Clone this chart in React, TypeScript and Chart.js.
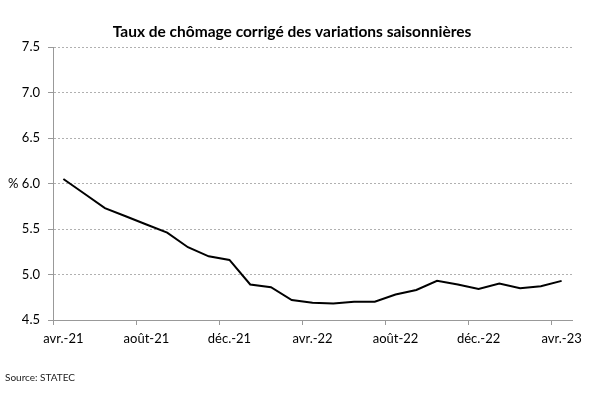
import React, { useEffect, useRef } from "react";
import { Chart, registerables } from "chart.js";

Chart.register(...registerables);

const months: string[] = [
  "avr.-21", "mai-21", "juin-21", "juil.-21", "août-21", "sept.-21", "oct.-21", "nov.-21", "déc.-21",
  "janv.-22", "févr.-22", "mars-22", "avr.-22", "mai-22", "juin-22", "juil.-22", "août-22", "sept.-22",
  "oct.-22", "nov.-22", "déc.-22", "janv.-23", "févr.-23", "mars-23", "avr.-23",
];

const unemployment: number[] = [
  6.05, 5.89, 5.73, 5.64, 5.55, 5.46, 5.30, 5.20, 5.16,
  4.89, 4.86, 4.72, 4.69, 4.68, 4.70, 4.70, 4.78, 4.83,
  4.93, 4.89, 4.84, 4.90, 4.85, 4.87, 4.93,
];

const yMin = 4.5;
const yMax = 7.5;
const yStep = 0.5;
const labelEvery = 4;

const titleText = "Taux de chômage corrigé des variations saisonnières";
const sourceText = "Source: STATEC";
const unitText = "%";
const unitAtValue = 6.0;

const FONT = "Lato, 'Open Sans', sans-serif";

export default function App() {
  const ref = useRef<HTMLCanvasElement | null>(null);

  useEffect(() => {
    if (!ref.current) return;
    const overlay = {
      id: "overlay",
      afterDraw(chart: any) {
        const ctx = chart.ctx;
        const y = chart.scales.y;
        ctx.save();
        ctx.fillStyle = "#000";
        ctx.font = `bold 15.5px ${FONT}`;
        ctx.textAlign = "center";
        ctx.textBaseline = "middle";
        ctx.fillText(titleText, 292, 32);
        ctx.font = `13px ${FONT}`;
        ctx.textAlign = "left";
        ctx.fillText(unitText, 8, y.getPixelForValue(unitAtValue));
        ctx.font = `10px ${FONT}`;
        ctx.fillStyle = "#222";
        ctx.fillText(sourceText, 5, 378);
        ctx.restore();
      },
    };

    const chart = new Chart(ref.current, {
      type: "line",
      data: {
        labels: months,
        datasets: [
          {
            data: unemployment,
            borderColor: "#000",
            borderWidth: 2,
            pointRadius: 0,
            tension: 0,
            fill: false,
          },
        ],
      },
      options: {
        responsive: false,
        animation: false,
        layout: { padding: { top: 47, right: 28, bottom: 0, left: 0 } },
        plugins: {
          legend: { display: false },
          title: { display: false },
          tooltip: { enabled: false },
        },
        scales: {
          x: {
            type: "category",
            offset: true,
            afterFit(scale: any) {
              scale.height = 79;
            },
            grid: {
              offset: true,
              drawOnChartArea: false,
              drawTicks: true,
              tickLength: 5,
              tickWidth: 1,
              tickColor: (c: any) => (c.index % labelEvery === 0 ? "#999" : "rgba(0,0,0,0)"),
            },
            border: { display: true, color: "#999", width: 1 },
            ticks: {
              autoSkip: false,
              maxRotation: 0,
              minRotation: 0,
              padding: 6,
              color: "#000",
              font: { family: FONT, size: 13 },
              callback: (_v: any, i: number) => (i % labelEvery === 0 ? months[i] : ""),
            },
          },
          y: {
            min: yMin,
            max: yMax,
            afterFit(scale: any) {
              scale.width = 53;
            },
            grid: {
              drawOnChartArea: true,
              drawTicks: true,
              tickLength: 5,
              tickColor: "#999",
              tickBorderDash: [],
              color: (c: any) => (c.tick && c.tick.value === yMin ? "rgba(0,0,0,0)" : "#b0b0b0"),
              lineWidth: 1,
            },
            border: { display: true, color: "#999", width: 1, dash: [2, 2] },
            ticks: {
              stepSize: yStep,
              padding: 8,
              color: "#000",
              font: { family: FONT, size: 13 },
              callback: (v: any) => Number(v).toFixed(1),
            },
          },
        },
      },
      plugins: [overlay],
    });
    return () => chart.destroy();
  }, []);

  return (
    <div style={{ position: "fixed", left: 0, top: 0, width: 600, height: 399, background: "#fff" }}>
      <canvas ref={ref} width={600} height={399} style={{ display: "block" }} />
    </div>
  );
}
